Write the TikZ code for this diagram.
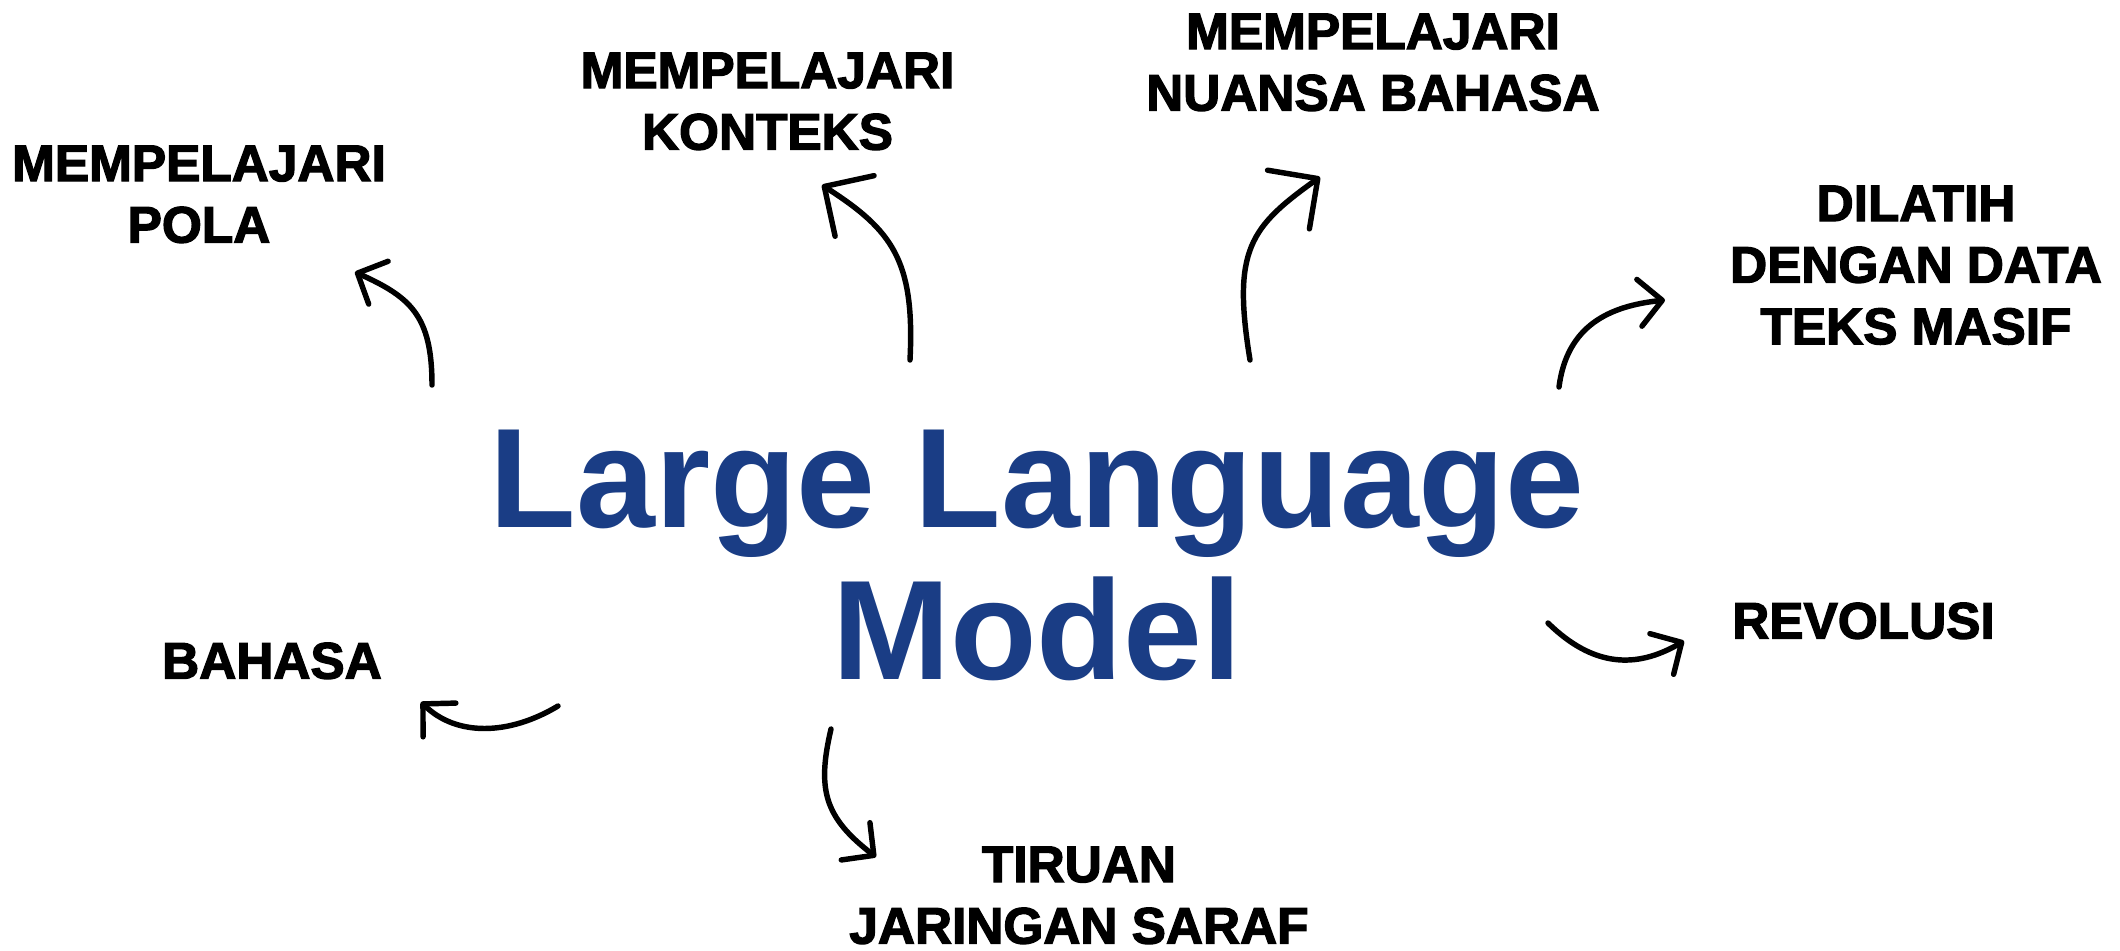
\documentclass[tikz,border=0pt]{standalone}
\usepackage{fontspec}
\setmainfont{Liberation Sans}
\newfontfamily\keyfont{Liberation Sans Bold}[FakeBold=2.5]
\usetikzlibrary{arrows.meta}
\definecolor{llmblue}{RGB}{26,61,133}

\begin{document}
\begin{tikzpicture}[x=0.01cm, y=-0.01cm,
  keyword/.style={font={\keyfont\fontsize{14.6}{17.5}\selectfont}, align=center,
    anchor=north, inner sep=0pt},
  titletext/.style={font={\fontsize{40.3}{43.2}\selectfont\bfseries}, text=llmblue,
    align=center, anchor=north, inner sep=0pt},
  curl/.style={line width=1.55pt, line cap=round,
    -{Straight Barb[length=2.3mm, width=4.7mm, round]}},
  bigcurl/.style={line width=1.55pt, line cap=round,
    -{Straight Barb[length=3.6mm, width=7.2mm, round]}}]

\useasboundingbox (0,0) rectangle (2120,950);

% central title
\node[titletext] (llm) at (1037,429) {Large Language\\Model};

% surrounding keywords
\node[keyword] (pola)     at (199,145)    {MEMPELAJARI\\POLA};
\node[keyword] (konteks)  at (767.5,52)   {MEMPELAJARI\\KONTEKS};
\node[keyword] (nuansa)   at (1373,13)    {MEMPELAJARI\\NUANSA BAHASA};
\node[keyword] (dilatih)  at (1916,185)   {DILATIH\\DENGAN DATA\\TEKS MASIF};
\node[keyword] (bahasa)   at (272,642)    {BAHASA};
\node[keyword] (tiruan)   at (1079,846)   {TIRUAN\\JARINGAN SARAF};
\node[keyword] (revolusi) at (1863.5,602) {REVOLUSI};

% ends of the curved arrows
\coordinate (t1) at (432,385);  \coordinate (p1) at (355,272);
\coordinate (t2) at (910,360);  \coordinate (p2) at (822,185);
\coordinate (t3) at (1250,360); \coordinate (p3) at (1320,177);
\coordinate (t4) at (1559,387); \coordinate (p4) at (1665,300);
\coordinate (t5) at (558,706);  \coordinate (p5) at (421,702);
\coordinate (t6) at (831,729);  \coordinate (p6) at (876,857);
\coordinate (t7) at (1548,623); \coordinate (p7) at (1684,641);

\draw[curl]    (t1) .. controls +(0,-70)    and +(55,25)   .. (p1);
\draw[bigcurl] (t2) .. controls +(5,-100)   and +(70,45)   .. (p2);
\draw[bigcurl] (t3) .. controls +(-18,-110) and +(-70,50)  .. (p3);
\draw[curl]    (t4) .. controls +(8,-62)    and +(-55,6)   .. (p4);
\draw[curl]    (t5) .. controls +(-50,30)   and +(35,34)   .. (p5);
\draw[curl]    (t6) .. controls +(-14,60)   and +(-52,-40) .. (p6);
\draw[curl]    (t7) .. controls +(45,44)    and +(-48,28)  .. (p7);
\end{tikzpicture}
\end{document}
